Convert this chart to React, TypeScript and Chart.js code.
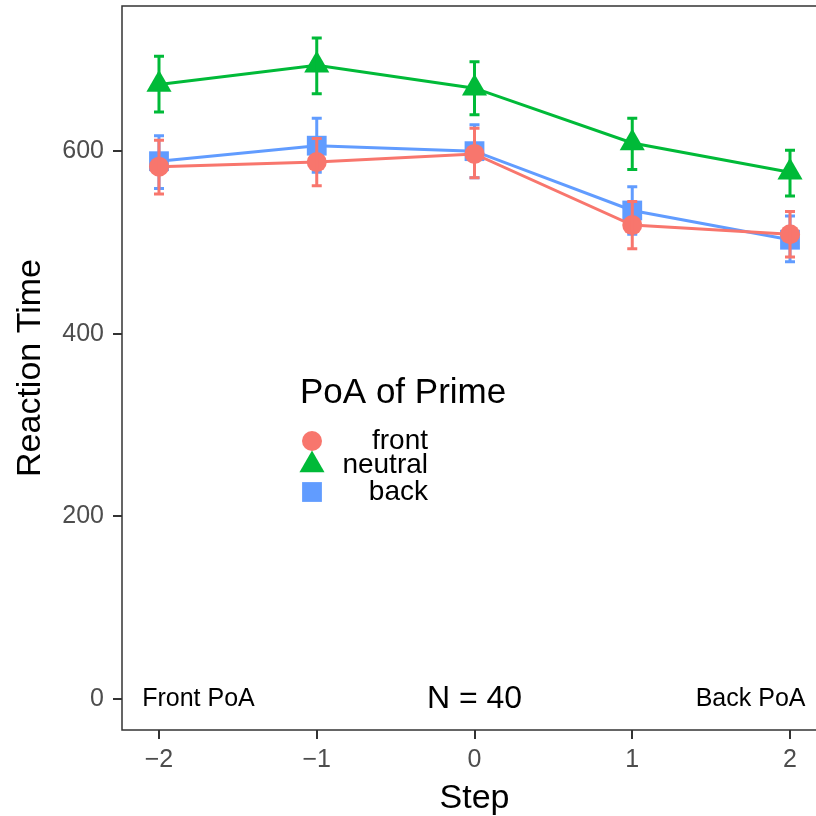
import React, { useEffect, useRef } from 'react';
import { Chart, registerables } from 'chart.js';

Chart.register(...registerables);

// ---- data ----
const steps = [-2, -1, 0, 1, 2];
const seriesNames = ['front', 'neutral', 'back'];
const frontMean = [583, 588, 597, 519, 509];
const frontLower = [553, 562, 571, 493, 484];
const frontUpper = [612, 614, 625, 545, 534];
const neutralMean = [673, 694, 669, 609, 577];
const neutralLower = [643, 663, 640, 580, 551];
const neutralUpper = [704, 724, 698, 636, 601];
const backMean = [589, 606, 600, 535, 503];
const backLower = [559, 577, 571, 509, 479];
const backUpper = [617, 636, 629, 561, 529];
const xTicks = [-2, -1, 0, 1, 2];
const yTicks = [0, 200, 400, 600];
const legendTitle = 'PoA of Prime';
const xTitle = 'Step';
const yTitle = 'Reaction Time';
const noteLeft = 'Front PoA';
const noteCenter = 'N = 40';
const noteRight = 'Back PoA';

const COLORS = ['#F8766D', '#00BA38', '#619CFF'];
const STYLES = ['circle', 'triangle', 'rect'];
const RADII = [10, 14.5, 14];
const FONT = "'Liberation Sans', Arial, Helvetica, sans-serif";

// panel placement (pixels)
const AREA = { left: 122, top: 6, right: 827, bottom: 730 };
const CANVAS_W = 828;
const CANVAS_H = 816;

const means = [frontMean, neutralMean, backMean];
const lowers = [frontLower, neutralLower, backLower];
const uppers = [frontUpper, neutralUpper, backUpper];

function drawSymbol(ctx: CanvasRenderingContext2D, style: string, x: number, y: number, r: number, color: string) {
  ctx.save();
  ctx.fillStyle = color;
  ctx.beginPath();
  if (style === 'circle') {
    ctx.arc(x, y, r, 0, Math.PI * 2);
  } else if (style === 'triangle') {
    for (let k = 0; k < 3; k++) {
      const a = (k * 2 * Math.PI) / 3;
      const px = x + Math.sin(a) * r;
      const py = y - Math.cos(a) * r;
      if (k === 0) ctx.moveTo(px, py);
      else ctx.lineTo(px, py);
    }
    ctx.closePath();
  } else {
    const s = Math.SQRT1_2 * r;
    ctx.rect(x - s, y - s, 2 * s, 2 * s);
  }
  ctx.fill();
  ctx.restore();
}

const fixLayoutPlugin = {
  id: 'fixLayout',
  afterLayout(chart: any) {
    const ca = chart.chartArea;
    ca.left = AREA.left;
    ca.top = AREA.top;
    ca.right = AREA.right;
    ca.bottom = AREA.bottom;
    ca.width = AREA.right - AREA.left;
    ca.height = AREA.bottom - AREA.top;
    const x = chart.scales.x;
    x.left = AREA.left;
    x.right = AREA.right;
    x.width = AREA.right - AREA.left;
    x.top = AREA.bottom;
    x.bottom = CANVAS_H;
    x.height = CANVAS_H - AREA.bottom;
    x.configure();
    const y = chart.scales.y;
    y.left = 0;
    y.right = AREA.left;
    y.width = AREA.left;
    y.top = AREA.top;
    y.bottom = AREA.bottom;
    y.height = AREA.bottom - AREA.top;
    y.configure();
  },
};

const errorBarPlugin = {
  id: 'errorBars',
  afterDatasetDraw(chart: any, args: any) {
    const i = args.index;
    const { ctx, scales } = chart;
    const xs = scales.x;
    const ys = scales.y;
    ctx.save();
    ctx.strokeStyle = COLORS[i];
    ctx.lineWidth = 3;
    const cap = 5;
    steps.forEach((s, j) => {
      const px = xs.getPixelForValue(s);
      const pl = ys.getPixelForValue(lowers[i][j]);
      const pu = ys.getPixelForValue(uppers[i][j]);
      ctx.beginPath();
      ctx.moveTo(px, pl);
      ctx.lineTo(px, pu);
      ctx.moveTo(px - cap, pl);
      ctx.lineTo(px + cap, pl);
      ctx.moveTo(px - cap, pu);
      ctx.lineTo(px + cap, pu);
      ctx.stroke();
    });
    ctx.restore();
  },
};

const decorPlugin = {
  id: 'decor',
  beforeDatasetsDraw(chart: any) {
    const { ctx, chartArea } = chart;
    ctx.save();
    ctx.strokeStyle = '#333333';
    ctx.lineWidth = 1.5;
    ctx.strokeRect(chartArea.left, chartArea.top, chartArea.right - chartArea.left, chartArea.bottom - chartArea.top);
    ctx.restore();
  },
  afterDraw(chart: any) {
    const { ctx, scales } = chart;
    const xs = scales.x;
    const ys = scales.y;
    ctx.save();
    ctx.fillStyle = '#000000';
    ctx.textBaseline = 'middle';
    ctx.textAlign = 'center';
    const y0 = ys.getPixelForValue(0);
    ctx.font = `25px ${FONT}`;
    ctx.fillText(noteLeft, xs.getPixelForValue(-1.75), y0);
    ctx.fillText(noteRight, xs.getPixelForValue(1.75), y0);
    ctx.font = `32px ${FONT}`;
    ctx.fillText(noteCenter, xs.getPixelForValue(0), y0);

    // legend
    ctx.textAlign = 'left';
    ctx.font = `35px ${FONT}`;
    ctx.fillText(legendTitle, 300, 393);
    const rowY = [441, 465, 492];
    ctx.font = `28px ${FONT}`;
    ctx.textAlign = 'right';
    seriesNames.forEach((name, i) => {
      drawSymbol(ctx, STYLES[i], 312, rowY[i], RADII[i], COLORS[i]);
      ctx.fillStyle = '#000000';
      ctx.fillText(name, 428, rowY[i]);
    });
    ctx.restore();
  },
};

export default function App() {
  const ref = useRef<HTMLCanvasElement | null>(null);
  useEffect(() => {
    if (!ref.current) return;
    const datasets = seriesNames.map((name, i) => ({
      label: name,
      data: steps.map((s, j) => ({ x: s, y: means[i][j] })),
      borderColor: COLORS[i],
      backgroundColor: COLORS[i],
      borderWidth: 3,
      pointStyle: STYLES[i],
      pointRadius: RADII[i],
      pointHoverRadius: RADII[i],
      pointBackgroundColor: COLORS[i],
      pointBorderWidth: 0,
      tension: 0,
      fill: false,
    }));
    const chart = new Chart(ref.current, {
      type: 'line',
      data: { datasets },
      plugins: [fixLayoutPlugin, errorBarPlugin, decorPlugin],
      options: {
        animation: false,
        responsive: false,
        devicePixelRatio: 1,
        layout: { padding: { top: 6, right: 1, left: 0, bottom: 0 } },
        plugins: { legend: { display: false }, tooltip: { enabled: false } },
        scales: {
          x: {
            type: 'linear',
            min: -2.2345,
            max: 2.2345,
            afterBuildTicks: (scale: any) => {
              scale.ticks = xTicks.map((v) => ({ value: v }));
            },
            afterFit: (scale: any) => {
              scale.height = 86;
            },
            grid: { drawOnChartArea: false, drawTicks: true, tickLength: 9, color: '#333333', lineWidth: 2 },
            border: { display: false },
            ticks: {
              color: '#4D4D4D',
              font: { size: 25, family: FONT },
              padding: 6,
              maxRotation: 0,
              autoSkip: false,
              callback: (v: any) => (v < 0 ? '\u2212' + Math.abs(v) : String(v)),
            },
            title: {
              display: true,
              text: xTitle,
              color: '#000000',
              font: { size: 34, family: FONT, lineHeight: 1.05 },
              padding: { top: 0, bottom: 0 },
            },
          },
          y: {
            type: 'linear',
            min: -34,
            max: 759,
            afterBuildTicks: (scale: any) => {
              scale.ticks = yTicks.map((v) => ({ value: v }));
            },
            afterFit: (scale: any) => {
              scale.width = 122;
            },
            grid: { drawOnChartArea: false, drawTicks: true, tickLength: 9, color: '#333333', lineWidth: 2 },
            border: { display: false },
            ticks: {
              color: '#4D4D4D',
              font: { size: 25, family: FONT },
              padding: 9,
              autoSkip: false,
              callback: (v: any) => String(v),
            },
            title: {
              display: true,
              text: yTitle,
              color: '#000000',
              font: { size: 34, family: FONT, lineHeight: 1.2 },
              padding: { top: 10, bottom: 0 },
            },
          },
        },
      },
    } as any);
    return () => chart.destroy();
  }, []);
  return (
    <div style={{ position: 'absolute', left: 0, top: 0, width: 816, height: 816, overflow: 'hidden', background: '#ffffff' }}>
      <canvas ref={ref} width={CANVAS_W} height={CANVAS_H} style={{ display: 'block', width: CANVAS_W, height: CANVAS_H }} />
    </div>
  );
}
